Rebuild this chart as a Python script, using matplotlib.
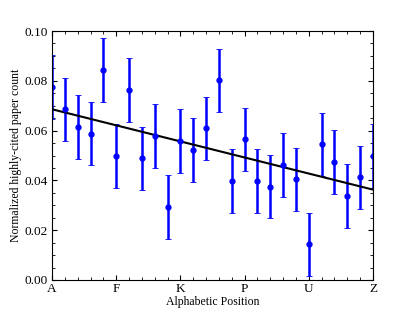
import matplotlib
matplotlib.use("Agg")
import matplotlib.pyplot as plt
import numpy as np
from matplotlib.ticker import MultipleLocator

matplotlib.rcParams.update({
    'font.family': 'serif',
    'font.serif': ['Liberation Serif', 'DejaVu Serif'],
    'xtick.direction': 'in',
    'ytick.direction': 'in',
    'xtick.top': True,
    'ytick.right': True,
})

letters = list("ABCDEFGHIJKLMNOPQRSTUVWXYZ")
counts = [0.0776, 0.0685, 0.0614, 0.0588, 0.0843, 0.0498, 0.0763, 0.0489,
          0.0578, 0.0294, 0.0559, 0.0521, 0.0609, 0.0802, 0.0399, 0.0565,
          0.0399, 0.0375, 0.0462, 0.0404, 0.0143, 0.0545, 0.0474, 0.0337,
          0.0412, 0.0499]
errors = [0.0128, 0.0127, 0.0128, 0.0128, 0.0127, 0.0128, 0.0127, 0.0127,
          0.0128, 0.0128, 0.0128, 0.0128, 0.0127, 0.0127, 0.0128, 0.0127,
          0.0128, 0.0128, 0.0127, 0.0128, 0.0128, 0.0127, 0.0127, 0.0128,
          0.0127, 0.0128]
tick_letters = ['A', 'F', 'K', 'P', 'U', 'Z']

x = np.arange(len(letters))
slope, intercept = np.polyfit(x, counts, 1)

fig = plt.figure(figsize=(4.15, 3.12), dpi=100)
ax = fig.add_axes([0.1253, 0.1026, 0.7735, 0.798])

ax.errorbar(x, counts, yerr=errors, fmt='o', color='blue', ms=3.5,
            elinewidth=1.8, capsize=2.2, capthick=0.6, ecolor='blue')
ax.plot(x, slope * x + intercept, color='black', lw=1.5)

ax.set_xlim(0, 25)
ax.set_ylim(0, 0.10)
ax.set_xticks([letters.index(t) for t in tick_letters])
ax.set_xticklabels(tick_letters)
ax.xaxis.set_minor_locator(MultipleLocator(1))
ax.yaxis.set_major_locator(MultipleLocator(0.02))
ax.yaxis.set_minor_locator(MultipleLocator(0.005))
ax.yaxis.set_major_formatter(matplotlib.ticker.FormatStrFormatter('%.2f'))
ax.tick_params(which='major', length=3.5, width=0.8, labelsize=9.5)
ax.tick_params(axis='x', which='major', pad=2)
ax.tick_params(axis='y', which='major', pad=3)
ax.tick_params(which='minor', length=2, width=0.6)
ax.set_xlabel('Alphabetic Position', fontsize=8.5, labelpad=1)
ax.set_ylabel('Normalized highly-cited paper count', fontsize=8.5, labelpad=1.5)

fig.savefig('out.png', dpi=100)
